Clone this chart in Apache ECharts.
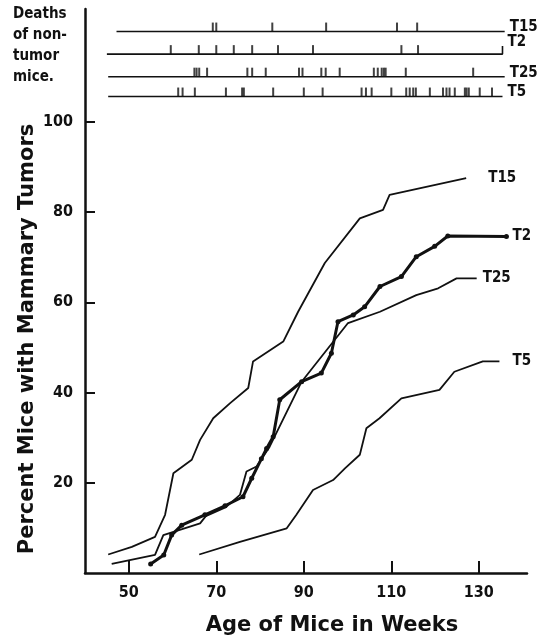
<!DOCTYPE html>
<html>
<head>
<meta charset="utf-8">
<script src="https://cdn.jsdelivr.net/npm/echarts@6/dist/echarts.min.js"></script>
<style>
html,body{margin:0;padding:0;background:#fff;}
#chart{width:538px;height:642px;}
</style>
</head>
<body>
<div id="chart"></div>
<script>
// ---- data ----
const seriesNames = ['T15', 'T2', 'T25', 'T5'];

// Tumor incidence curves: [age in weeks, percent]
const curveT15 = [[45.3,4.1],[50.7,5.8],[56.0,8.0],[58.3,12.9],[60.2,22.1],[64.4,25.1],[66.3,29.5],[69.3,34.3],[73.1,37.6],[77.3,41.0],[78.4,46.9],[85.3,51.3],[88.7,57.9],[94.8,68.7],[102.8,78.6],[108.1,80.5],[109.6,83.8],[127.1,87.5]];
const curveT2 = [[55.0,2.0],[58.0,4.0],[59.8,8.4],[62.1,10.6],[67.4,12.9],[72.0,14.9],[76.1,16.9],[78.1,21.0],[80.3,25.3],[81.5,27.6],[83.0,30.2],[84.5,38.4],[89.5,42.4],[94.0,44.3],[96.3,48.7],[97.8,55.7],[101.3,57.2],[103.9,59.0],[107.4,63.5],[112.3,65.7],[115.7,70.1],[119.9,72.4],[122.9,74.7],[136.3,74.6]];
const curveT25 = [[46.1,2.0],[56.0,4.0],[57.9,8.4],[66.3,11.0],[67.6,12.6],[72.2,14.6],[75.4,17.3],[76.9,22.5],[79.2,23.6],[82.2,28.0],[89.5,42.4],[100.1,55.4],[107.4,57.9],[115.7,61.6],[120.7,63.1],[124.9,65.3],[129.5,65.3]];
const curveT5 = [[66.1,4.1],[75.4,6.9],[86.1,9.9],[88.3,12.9],[92.1,18.4],[96.7,20.6],[99.4,23.2],[102.8,26.2],[104.3,32.1],[107.3,34.3],[112.3,38.7],[121.0,40.6],[124.4,44.6],[130.9,46.9],[134.7,46.9]];

// Deaths of non-tumor mice (age in weeks)
const deathT15 = [69.2, 70.0, 82.8, 95.1, 111.3, 115.9];
const deathT2 = [59.6, 66.0, 70.0, 74.0, 78.2, 84.1, 92.1, 112.3, 116.1];
const deathT25 = [65.0, 65.5, 66.1, 67.9, 77.1, 78.2, 81.3, 88.9, 89.7, 94.0, 95.0, 98.2, 106.0, 106.9, 107.8, 108.3, 108.7, 113.3, 128.7];
const deathT5 = [61.3, 62.3, 65.1, 72.2, 75.9, 76.3, 83.0, 90.0, 94.3, 103.2, 104.2, 105.5, 110.0, 113.4, 114.2, 115.0, 115.6, 118.8, 121.8, 122.6, 123.3, 124.5, 126.8, 127.2, 127.7, 130.2, 133.0];
// observation span of each death row (weeks)
const spanT15 = [47.2, 135.9];
const spanT2 = [45.0, 135.4];
const spanT25 = [45.3, 135.9];
const spanT5 = [45.3, 135.4];
// row level of each death strip (value scale above 100)
const rowLevels = [120, 115, 110, 105.6];

// tick labels
const xTicks = [50, 70, 90, 110, 130];
const yTicks = [20, 40, 60, 80, 100];

// ---- chart ----
const COND = "'DejaVu Sans Condensed', 'DejaVu Sans', sans-serif";
const WIDE = "'DejaVu Sans', sans-serif";
const INK = '#111';
const chart = echarts.init(document.getElementById('chart'), null, {renderer: 'canvas'});

const curves = [curveT15, curveT2, curveT25, curveT5];
const deaths = [deathT15, deathT2, deathT25, deathT5];
const spans = [spanT15, spanT2, spanT25, spanT5];
const endDist = [22, 6, 6, 13];

const series = [];
curves.forEach((c, i) => {
  const isT2 = seriesNames[i] === 'T2';
  series.push({
    name: seriesNames[i],
    type: 'line',
    data: c,
    silent: true,
    animation: false,
    showSymbol: isT2,
    symbol: 'circle',
    symbolSize: isT2 ? 5 : 0,
    itemStyle: {color: INK},
    lineStyle: {color: INK, width: isT2 ? 3 : 1.8},
    endLabel: {
      show: true, formatter: '{a}', distance: endDist[i],
      color: INK, fontFamily: COND, fontWeight: 'bold', fontSize: 15
    }
  });
});
deaths.forEach((d, i) => {
  const lvl = rowLevels[i];
  const base = [[spans[i][0], lvl], [spans[i][1], lvl]];
  if (seriesNames[i] === 'T2') base.push([spans[i][1], lvl + 1.8]);
  series.push({
    name: seriesNames[i],
    type: 'line',
    data: base,
    silent: true,
    animation: false,
    showSymbol: false,
    lineStyle: {color: INK, width: 1.6},
    endLabel: {
      show: true, formatter: '{a}', distance: 5, offset: [0, -4],
      color: INK, fontFamily: COND, fontWeight: 'bold', fontSize: 15
    }
  });
  series.push({
    type: 'scatter',
    data: d.map(v => [v, lvl]),
    silent: true,
    animation: false,
    symbol: 'rect',
    symbolSize: [2, 9],
    symbolOffset: [0, -4.5],
    itemStyle: {color: INK}
  });
});

chart.setOption({
  backgroundColor: '#fff',
  animation: false,
  grid: {left: 85, right: 11, top: 9, bottom: 69, containLabel: false},
  xAxis: {
    type: 'value', min: 40, max: 141,
    axisLine: {show: true, onZero: false, lineStyle: {color: INK, width: 2.5}},
    axisTick: {show: true, inside: true, length: 12, customValues: xTicks, lineStyle: {color: INK, width: 2}},
    axisLabel: {customValues: xTicks, margin: 12, color: INK, fontFamily: COND, fontWeight: 'bold', fontSize: 16},
    splitLine: {show: false}
  },
  yAxis: {
    type: 'value', min: 0, max: 125,
    axisLine: {show: true, onZero: false, lineStyle: {color: INK, width: 2.5}},
    axisTick: {show: true, inside: true, length: 10, customValues: yTicks, lineStyle: {color: INK, width: 2}},
    axisLabel: {customValues: yTicks, margin: 12, color: INK, fontFamily: COND, fontWeight: 'bold', fontSize: 16},
    splitLine: {show: false}
  },
  graphic: [
    {type: 'text', x: 28, y: 339, rotation: Math.PI / 2,
     style: {text: 'Percent Mice with Mammary Tumors', fill: INK, font: "bold 21px " + WIDE, textAlign: 'center', textVerticalAlign: 'middle'}},
    {type: 'text', x: 332, y: 626,
     style: {text: 'Age of Mice in Weeks', fill: INK, font: "bold 21px " + WIDE, textAlign: 'center', textVerticalAlign: 'middle'}},
    {type: 'text', x: 13, y: 4,
     style: {text: 'Deaths\nof non-\ntumor\nmice.', fill: INK, font: "bold 15px " + COND, lineHeight: 21, textAlign: 'left', textVerticalAlign: 'top'}}
  ],
  series: series
});
</script>
</body>
</html>
